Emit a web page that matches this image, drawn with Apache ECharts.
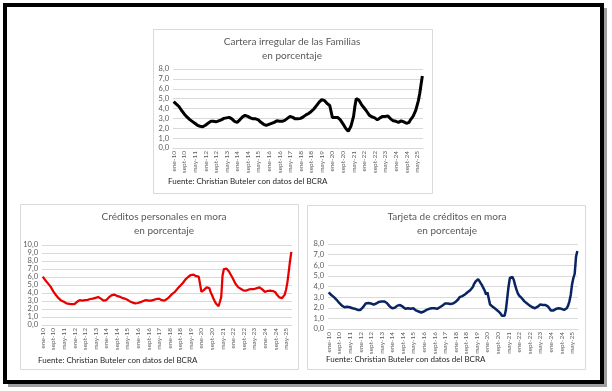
<!DOCTYPE html>
<html>
<head>
<meta charset="utf-8">
<script src="https://cdn.jsdelivr.net/npm/echarts@6/dist/echarts.min.js"></script>
<style>
  html, body { margin: 0; padding: 0; background: #ffffff; }
  #chart { width: 612px; height: 391px; }
</style>
</head>
<body>
<div id="chart"></div>
<script>
// ---- Data ----
const monthNames = ['ene','feb','mar','abr','may','jun','jul','ago','sept','oct','nov','dic'];
const firstYear = 2010;
const monthCount = 189; // ene-10 .. sept-25

const titleFamilias = 'Cartera irregular de las Familias\nen porcentaje';
const titlePersonales = 'Créditos personales en mora\nen porcentaje';
const titleTarjeta = 'Tarjeta de créditos en mora\nen porcentaje';
const sourceText = 'Fuente: Christian Buteler con datos del BCRA';

const familias = [
  4.7, 4.6, 4.45, 4.3, 4.2, 4.0, 3.8, 3.65, 3.45, 3.3, 3.15, 3.0,
  2.9, 2.75, 2.7, 2.6, 2.5, 2.4, 2.3, 2.25, 2.2, 2.2, 2.15, 2.2,
  2.3, 2.4, 2.5, 2.6, 2.7, 2.65, 2.7, 2.75, 2.65, 2.7, 2.75, 2.8,
  2.85, 2.95, 3.0, 3.0, 3.05, 3.05, 3.1, 3.05, 2.95, 2.8, 2.7, 2.6,
  2.6, 2.7, 2.85, 3.0, 3.15, 3.25, 3.3, 3.3, 3.2, 3.1, 3.05, 3.0,
  2.95, 2.9, 2.95, 2.95, 2.85, 2.7, 2.6, 2.5, 2.4, 2.35, 2.3, 2.3,
  2.4, 2.45, 2.5, 2.55, 2.6, 2.7, 2.75, 2.75, 2.7, 2.75, 2.7, 2.7,
  2.8, 2.9, 3.0, 3.1, 3.2, 3.25, 3.1, 3.0, 2.95, 2.9, 2.95, 2.95,
  3.0, 3.05, 3.15, 3.3, 3.35, 3.4, 3.5, 3.6, 3.7, 3.8, 3.95, 4.1,
  4.3, 4.5, 4.65, 4.8, 4.9, 4.9, 4.8, 4.65, 4.5, 4.35, 4.3, 4.25,
  3.1, 3.1, 3.1, 3.05, 3.1, 3.0, 2.85, 2.7, 2.45, 2.25, 2.0, 1.8,
  1.7, 1.75, 2.2, 2.7, 3.2, 4.2, 5.0, 5.0, 4.85, 4.65, 4.4, 4.2,
  4.05, 3.9, 3.7, 3.5, 3.3, 3.25, 3.15, 3.1, 3.05, 3.0, 2.85, 3.0,
  3.05, 3.15, 3.2, 3.25, 3.2, 3.3, 3.25, 3.1, 2.95, 2.8, 2.75, 2.7,
  2.7, 2.65, 2.6, 2.65, 2.75, 2.75, 2.65, 2.6, 2.5, 2.5, 2.6, 2.85,
  3.0, 3.2, 3.5, 3.8, 4.3, 4.8, 5.5, 6.4, 7.3
];

const personales = [
  6.05, 5.8, 5.6, 5.4, 5.2, 5.0, 4.8, 4.5, 4.2, 4.0, 3.75, 3.55,
  3.35, 3.15, 3.05, 2.95, 2.9, 2.8, 2.7, 2.7, 2.65, 2.6, 2.6, 2.55,
  2.6, 2.75, 2.9, 3.0, 3.1, 3.2, 3.05, 3.1, 3.1, 3.05, 3.15, 3.2,
  3.25, 3.35, 3.3, 3.4, 3.4, 3.45, 3.5, 3.45, 3.3, 3.2, 3.05, 3.05,
  3.1, 3.25, 3.45, 3.55, 3.7, 3.75, 3.8, 3.75, 3.65, 3.6, 3.55, 3.45,
  3.4, 3.35, 3.3, 3.25, 3.15, 3.05, 2.95, 2.85, 2.8, 2.75, 2.7, 2.75,
  2.75, 2.8, 2.85, 2.95, 3.0, 3.05, 3.1, 3.05, 3.05, 3.0, 3.05, 3.1,
  3.15, 3.2, 3.25, 3.35, 3.3, 3.2, 3.1, 3.05, 3.05, 3.1, 3.25, 3.4,
  3.55, 3.7, 3.9, 4.0, 4.15, 4.35, 4.55, 4.75, 4.9, 5.05, 5.25, 5.5,
  5.7, 5.85, 6.0, 6.15, 6.25, 6.3, 6.3, 6.15, 6.1, 6.15, 6.05, 6.05,
  4.15, 4.25, 4.4, 4.55, 4.7, 4.75, 4.6, 4.1, 3.75, 3.35, 3.0, 2.7,
  2.45, 2.35, 2.9, 3.5, 6.2, 7.0, 7.1, 7.05, 6.9, 6.65, 6.35, 6.1,
  5.75, 5.4, 5.1, 4.9, 4.7, 4.6, 4.5, 4.35, 4.3, 4.3, 4.3, 4.4,
  4.45, 4.5, 4.5, 4.45, 4.5, 4.55, 4.6, 4.7, 4.7, 4.6, 4.45, 4.3,
  4.15, 4.2, 4.25, 4.25, 4.3, 4.3, 4.25, 4.2, 4.1, 3.8, 3.6, 3.45,
  3.4, 3.35, 3.45, 3.8, 4.4, 5.3, 6.6, 8.0, 9.15
];

const tarjeta = [
  3.45, 3.4, 3.2, 3.05, 3.0, 2.95, 2.75, 2.6, 2.45, 2.3, 2.2, 2.1,
  2.05, 2.05, 2.1, 2.05, 2.05, 2.0, 1.95, 1.95, 1.9, 1.85, 1.8, 1.75,
  1.8, 1.9, 2.05, 2.2, 2.4, 2.45, 2.45, 2.4, 2.4, 2.35, 2.3, 2.3,
  2.4, 2.45, 2.55, 2.6, 2.6, 2.65, 2.6, 2.55, 2.45, 2.3, 2.15, 2.05,
  1.95, 1.9, 2.0, 2.1, 2.2, 2.2, 2.25, 2.3, 2.1, 2.0, 1.9, 1.9,
  1.95, 1.95, 1.9, 1.9, 1.95, 1.85, 1.75, 1.7, 1.65, 1.6, 1.55, 1.55,
  1.65, 1.7, 1.8, 1.9, 1.9, 1.95, 1.95, 1.95, 1.95, 1.9, 1.9, 1.95,
  2.05, 2.1, 2.2, 2.3, 2.4, 2.45, 2.4, 2.35, 2.35, 2.35, 2.4, 2.5,
  2.55, 2.65, 2.8, 3.0, 3.05, 3.1, 3.15, 3.25, 3.35, 3.45, 3.55, 3.65,
  3.8, 3.95, 4.25, 4.45, 4.6, 4.7, 4.5, 4.3, 4.1, 3.85, 3.6, 3.25,
  3.45, 3.5, 2.3, 2.2, 2.1, 2.0, 1.9, 1.8, 1.7, 1.6, 1.45, 1.25,
  1.2, 1.25, 1.8, 2.9, 4.0, 4.8, 4.95, 4.9, 4.6, 4.1, 3.7, 3.35,
  3.15, 3.0, 2.9, 2.75, 2.6, 2.5, 2.4, 2.3, 2.2, 2.1, 2.05, 2.0,
  1.95, 2.0, 2.1, 2.2, 2.3, 2.35, 2.25, 2.2, 2.25, 2.25, 2.1, 1.95,
  1.75, 1.7, 1.75, 1.8, 1.9, 2.0, 1.95, 1.9, 1.9, 1.75, 1.8, 1.9,
  1.95, 2.2, 2.6, 3.2, 4.2, 4.8, 5.2, 6.8, 7.35
];

// ---- Build categories ----
const categories = [];
for (let i = 0; i < monthCount; i++) {
  const y = firstYear + Math.floor(i / 12);
  categories.push(monthNames[i % 12] + '-' + String(y).slice(2));
}

const FONT = 'Lato, "Open Sans", sans-serif';
const GRAY = '#595959';
const GRID_C = '#d9d9d9';

function xAxisFor(gi) {
  return {
    type: 'category', gridIndex: gi, data: categories, boundaryGap: true,
    axisLine: { show: true, lineStyle: { color: GRID_C, width: 1 } },
    axisTick: { show: false },
    axisLabel: { interval: 7, rotate: 90, fontSize: 6.5, color: GRAY, fontFamily: FONT, margin: 3 },
    splitLine: { show: false }
  };
}
function yAxisFor(gi, max) {
  return {
    type: 'value', gridIndex: gi, min: 0, max: max, interval: 1,
    axisLine: { show: false }, axisTick: { show: false },
    axisLabel: { fontSize: 7.5, color: GRAY, fontFamily: FONT, margin: 4,
      formatter: v => v.toFixed(1).replace('.', ',') },
    splitLine: { lineStyle: { color: GRID_C, width: 1 } }
  };
}
function titleFor(text, x, y) {
  return {
    text: text, left: x, top: y, textAlign: 'center', padding: 0,
    textStyle: { fontFamily: FONT, fontSize: 10, fontWeight: 'normal', color: GRAY, lineHeight: 14 }
  };
}
function sourceFor(x, y) {
  return {
    text: sourceText, left: x, top: y, padding: 0,
    textStyle: { fontFamily: FONT, fontSize: 8, fontWeight: 'normal', color: '#262626' }
  };
}

const chart = echarts.init(document.getElementById('chart'), null, { renderer: 'canvas' });
chart.setOption({
  animation: false,
  backgroundColor: '#ffffff',
  title: [
    titleFor(titleFamilias, 292, 35),
    titleFor(titlePersonales, 164, 210),
    titleFor(titleTarjeta, 447, 210),
    sourceFor(168, 177),
    sourceFor(38, 356),
    sourceFor(326, 355)
  ],
  graphic: [
    { type: 'line', shape: { x1: 605.5, y1: 8, x2: 605.5, y2: 387 }, style: { stroke: '#9e9e9e', lineWidth: 3 }, z: 1 },
    { type: 'line', shape: { x1: 8, y1: 385.5, x2: 607, y2: 385.5 }, style: { stroke: '#9e9e9e', lineWidth: 3 }, z: 1 },
    { type: 'rect', shape: { x: 5, y: 5, width: 597, height: 377 }, style: { fill: 'none', stroke: '#000000', lineWidth: 4 }, z: 2 },
    { type: 'rect', shape: { x: 153.5, y: 29.5, width: 279, height: 164 }, style: { fill: 'none', stroke: GRID_C, lineWidth: 1 } },
    { type: 'rect', shape: { x: 20.5, y: 204.5, width: 278, height: 165 }, style: { fill: 'none', stroke: GRID_C, lineWidth: 1 } },
    { type: 'rect', shape: { x: 307.5, y: 205.5, width: 278, height: 164 }, style: { fill: 'none', stroke: GRID_C, lineWidth: 1 } }
  ],
  grid: [
    { left: 173, width: 250, top: 69, height: 79, containLabel: false },
    { left: 42, width: 250, top: 245, height: 80, containLabel: false },
    { left: 328, width: 250, top: 244, height: 85, containLabel: false }
  ],
  xAxis: [xAxisFor(0), xAxisFor(1), xAxisFor(2)],
  yAxis: [yAxisFor(0, 8), yAxisFor(1, 10), yAxisFor(2, 8)],
  series: [
    { type: 'line', name: 'Cartera irregular de las Familias', xAxisIndex: 0, yAxisIndex: 0, data: familias,
      showSymbol: false, lineStyle: { color: '#000000', width: 3 }, itemStyle: { color: '#000000' } },
    { type: 'line', name: 'Créditos personales en mora', xAxisIndex: 1, yAxisIndex: 1, data: personales,
      showSymbol: false, lineStyle: { color: '#e60000', width: 2.25 }, itemStyle: { color: '#e60000' } },
    { type: 'line', name: 'Tarjeta de créditos en mora', xAxisIndex: 2, yAxisIndex: 2, data: tarjeta,
      showSymbol: false, lineStyle: { color: '#0a2463', width: 2.5 }, itemStyle: { color: '#0a2463' } }
  ]
});
</script>
</body>
</html>
